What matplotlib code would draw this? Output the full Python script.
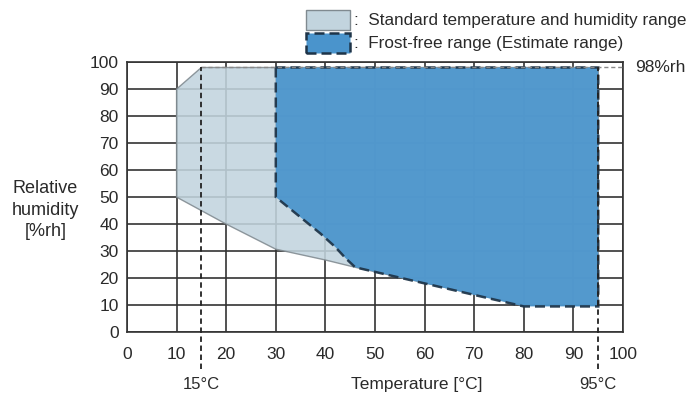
"""Operating range chart: temperature vs relative humidity."""

import matplotlib
matplotlib.use("Agg")
import matplotlib.pyplot as plt
from matplotlib.patches import Polygon, Rectangle

plt.rcParams["font.family"] = ["Liberation Sans", "DejaVu Sans"]

# Standard temperature and humidity range (outline points, degC / %rh)
std_temp = [10, 10, 15, 95, 95, 80, 46, 40, 30, 20, 15, 10]
std_rh = [50, 90, 98, 98, 10, 10, 24, 26.7, 30.7, 40, 45, 50]

# Frost-free range (estimate)
frost_temp = [30, 30, 35, 39, 42, 44, 46, 80, 95, 95]
frost_rh = [98, 50, 42.5, 36.5, 31.5, 27.5, 24, 9.5, 9.5, 98]

x_ticks = [0, 10, 20, 30, 40, 50, 60, 70, 80, 90, 100]
y_ticks = [0, 10, 20, 30, 40, 50, 60, 70, 80, 90, 100]
temp_marks = [15, 95]
rh_limit = 98

STD_COLOR = "#c2d4de"
FROST_COLOR = "#4a94cc"
EDGE = "#1e3448"
TXT = "#2a2a2a"

fig = plt.figure(figsize=(6.9, 3.93), dpi=100)
ax = fig.add_axes([0.184, 0.155, 0.719, 0.687])
ax.set_xlim(0, 100)
ax.set_ylim(0, 100)

ax.set_xticks(x_ticks)
ax.set_yticks(y_ticks)
ax.grid(True, color="#333333", lw=1.2)
ax.set_axisbelow(True)
ax.tick_params(length=0, labelsize=12.5, colors=TXT)
ax.tick_params(axis="x", pad=11)
ax.tick_params(axis="y", pad=6)
for s in ax.spines.values():
    s.set_color("#333333")
    s.set_linewidth(1.2)

ax.add_patch(Polygon(list(zip(std_temp, std_rh)), closed=True,
                     facecolor=STD_COLOR, edgecolor="#808a90", lw=1.0, alpha=0.88, zorder=2))
ax.add_patch(Polygon(list(zip(frost_temp, frost_rh)), closed=True,
                     facecolor=FROST_COLOR, edgecolor=EDGE, lw=1.8, ls=(0, (4, 2)),
                     alpha=0.93, zorder=3))

# 98 %rh limit and 15 / 95 degC markers
ax.plot([15, 100], [rh_limit, rh_limit], color="#888888", lw=1.0, ls=(0, (3, 2)), zorder=4)
ax.text(102.5, rh_limit, "98%rh", fontsize=12.5, color=TXT, va="center", ha="left")
for t in temp_marks:
    ax.plot([t, t], [-13.5, rh_limit], color="#222222", lw=1.3, ls=(0, (3, 2)),
            clip_on=False, zorder=4)
    ax.text(t, -16.5, f"{t}°C", fontsize=12, color=TXT, ha="center", va="top")

ax.text(58.5, -16.5, "Temperature [°C]", fontsize=12.5, color=TXT, ha="center", va="top")
fig.text(0.066, 0.465, "Relative\nhumidity\n[%rh]", fontsize=13, color=TXT,
         ha="center", va="center", linespacing=1.35)

# legend drawn by hand at the top
fig.patches.append(Rectangle((0.443, 0.924), 0.064, 0.05, transform=fig.transFigure,
                             facecolor=STD_COLOR, edgecolor="#808a90", lw=1.0))
fig.patches.append(Rectangle((0.443, 0.865), 0.064, 0.05, transform=fig.transFigure,
                             facecolor=FROST_COLOR, edgecolor=EDGE, lw=1.8, ls=(0, (4, 2))))
fig.text(0.513, 0.949, ":  Standard temperature and humidity range", fontsize=12.3,
         color=TXT, va="center")
fig.text(0.513, 0.890, ":  Frost-free range (Estimate range)", fontsize=12.3,
         color=TXT, va="center")

fig.savefig("out.png", dpi=100, facecolor="white")
